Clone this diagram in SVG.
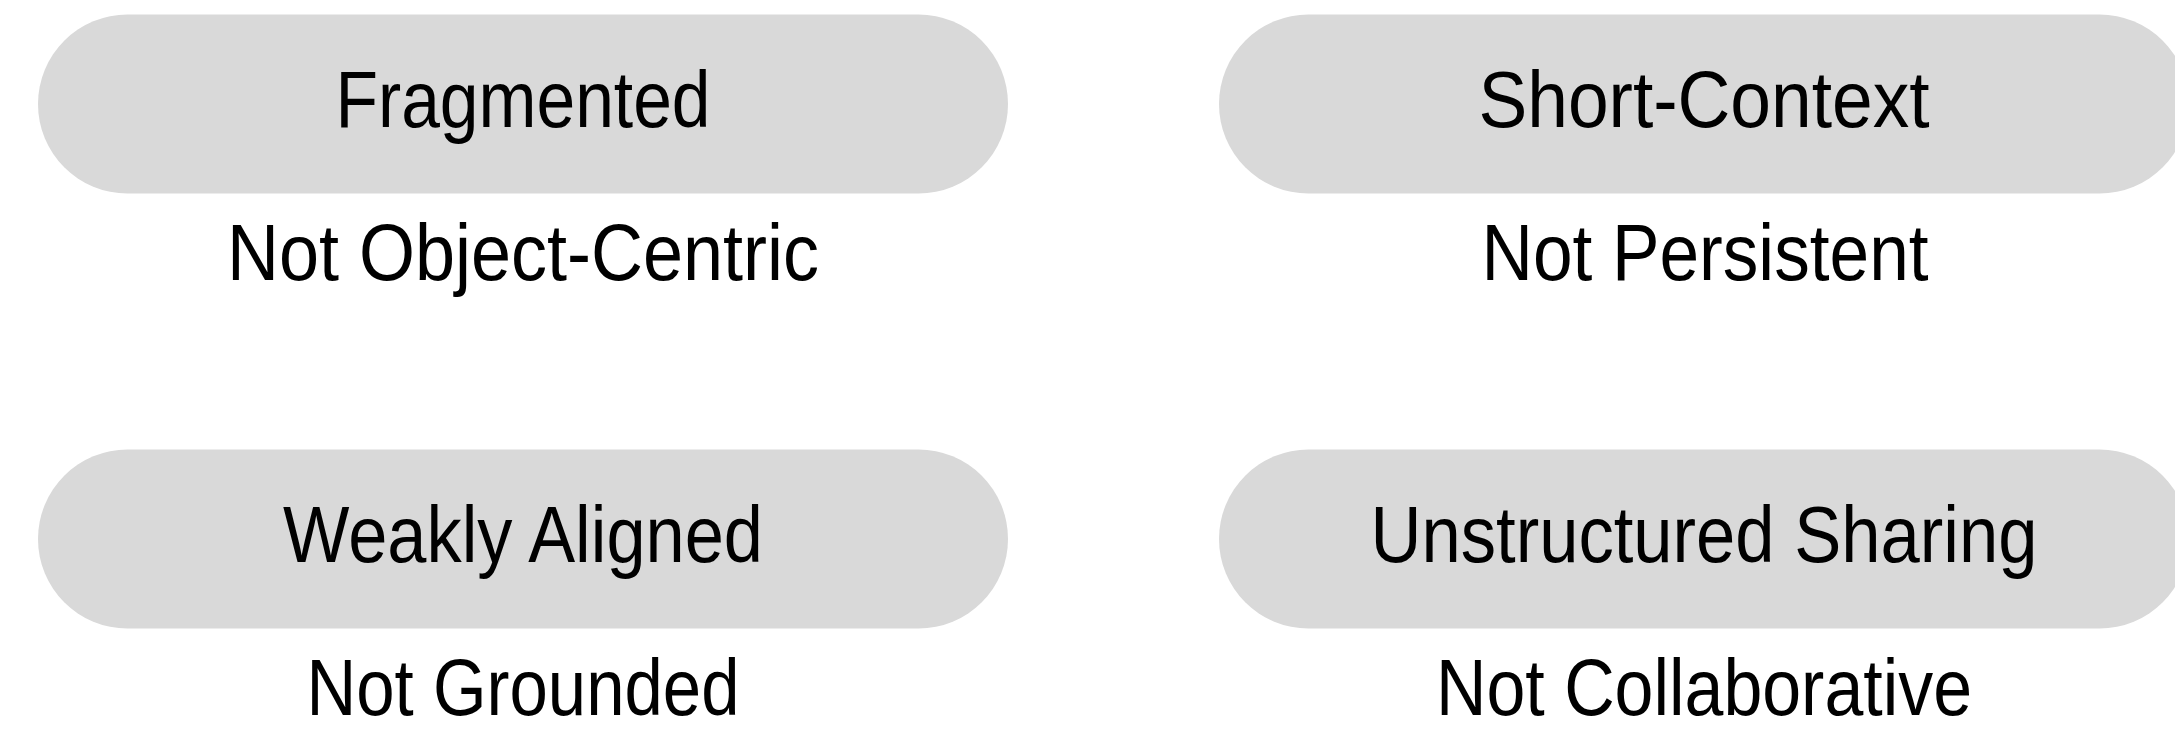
<svg xmlns="http://www.w3.org/2000/svg" width="2175" height="731" viewBox="0 0 2175 731">
<style>
.pill{fill:#d9d9d9}
.t{font-family:"Liberation Sans",Arial,sans-serif;font-size:79px;fill:#000;text-anchor:middle}
</style>
<rect width="2175" height="731" fill="#ffffff"/>
<g id="node-fragmented">
<rect class="pill" x="38" y="14.5" width="970" height="179" rx="89.5" ry="89.5"/>
<text class="t" x="523" y="127" textLength="375" lengthAdjust="spacingAndGlyphs">Fragmented</text>
<text class="t" x="523" y="280" textLength="592" lengthAdjust="spacingAndGlyphs">Not Object-Centric</text>
</g>
<g id="node-short-context">
<rect class="pill" x="1219" y="14.5" width="970" height="179" rx="89.5" ry="89.5"/>
<text class="t" x="1704" y="127" textLength="451" lengthAdjust="spacingAndGlyphs">Short-Context</text>
<text class="t" x="1705" y="280" textLength="447" lengthAdjust="spacingAndGlyphs">Not Persistent</text>
</g>
<g id="node-weakly-aligned">
<rect class="pill" x="38" y="449.5" width="970" height="179" rx="89.5" ry="89.5"/>
<text class="t" x="523" y="562" textLength="480" lengthAdjust="spacingAndGlyphs">Weakly Aligned</text>
<text class="t" x="523" y="715" textLength="433" lengthAdjust="spacingAndGlyphs">Not Grounded</text>
</g>
<g id="node-unstructured-sharing">
<rect class="pill" x="1219" y="449.5" width="970" height="179" rx="89.5" ry="89.5"/>
<text class="t" x="1704" y="562" textLength="667" lengthAdjust="spacingAndGlyphs">Unstructured Sharing</text>
<text class="t" x="1704" y="715" textLength="536" lengthAdjust="spacingAndGlyphs">Not Collaborative</text>
</g>
<g id="connectors"></g>
</svg>
